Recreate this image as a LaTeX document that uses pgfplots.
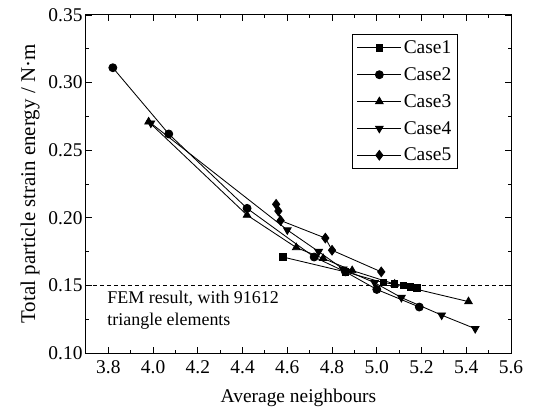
\documentclass[border=0pt]{standalone}
\usepackage{fontspec}
\setmainfont{Liberation Serif}
\usepackage{pgfplots}
\pgfplotsset{compat=1.18}
\begin{document}
\begin{tikzpicture}
\path[use as bounding box] (-86bp,-58bp) rectangle (471bp,353bp);
\begin{axis}[
  at={(0,0)}, anchor=south west,
  scale only axis, width=425bp, height=338bp,
  xmin=3.7, xmax=5.6, ymin=0.10, ymax=0.35,
  xtick={3.8,4.0,4.2,4.4,4.6,4.8,5.0,5.2,5.4,5.6},
  ytick={0.10,0.15,0.20,0.25,0.30,0.35},
  minor x tick num=1, minor y tick num=1,
  tick align=inside, major tick length=6bp, minor tick length=3bp,
  axis line style={line width=1bp}, every tick/.style={black, line width=0.9bp},
  /pgf/number format/assume math mode=true,
  tick label style={font=\fontsize{19.5}{21}\selectfont},
  xticklabel style={yshift=-4bp, /pgf/number format/.cd, fixed, fixed zerofill, precision=1},
  yticklabel style={/pgf/number format/.cd, fixed, fixed zerofill, precision=2},
  xlabel style={font=\fontsize{19.5}{21}\selectfont, yshift=-8bp},
  ylabel style={font=\fontsize{21}{23}\selectfont, yshift=2bp},
  xlabel={Average neighbours},
  ylabel={Total particle strain energy / N·m},
  legend style={at={(0.627,0.943)}, anchor=north west, draw=black, line width=0.9bp,
    font=\fontsize{19.5}{21}\selectfont, row sep=8.5bp, inner sep=4bp},
  legend cell align=left,
  legend image code/.code={\draw[mark repeat=2, mark phase=2] plot coordinates {(0bp,0bp) (22bp,0bp) (44bp,0bp)};},
  every axis plot/.append style={black, line width=0.85bp},
]
\addplot[mark=square*, mark size=3.2bp] coordinates {
  (4.58,0.171) (4.86,0.160) (5.03,0.152) (5.08,0.151) (5.12,0.150) (5.15,0.149) (5.18,0.148)};
\addplot[mark=*, mark size=4bp] coordinates {
  (3.82,0.311) (4.07,0.262) (4.42,0.207) (4.72,0.171) (4.86,0.160) (5.00,0.147) (5.19,0.134)};
\addplot[mark=triangle*, mark size=4.4bp] coordinates {
  (3.98,0.271) (4.42,0.202) (4.64,0.178) (4.76,0.170) (4.89,0.161) (5.08,0.151) (5.41,0.138)};
\addplot[mark=triangle*, mark size=4.4bp, mark options={rotate=180}] coordinates {
  (3.99,0.270) (4.60,0.191) (4.74,0.175) (4.85,0.162) (4.99,0.152) (5.11,0.141) (5.29,0.128) (5.44,0.118)};
\addplot[mark=diamond*, mark size=4.8bp] coordinates {
  (4.55,0.210) (4.56,0.205) (4.57,0.198) (4.77,0.185) (4.80,0.176) (5.02,0.160)};
\addplot[forget plot, line width=0.8bp, dash pattern=on 4bp off 3bp] coordinates {(3.7,0.15) (5.6,0.15)};
\legend{Case1, Case2, Case3, Case4, Case5}
\node[anchor=north west, align=left, inner sep=0pt, font=\fontsize{18}{22}\selectfont]
  at (axis cs:3.795,0.146) {FEM result, with 91612\\triangle elements};
\end{axis}
\end{tikzpicture}
\end{document}
